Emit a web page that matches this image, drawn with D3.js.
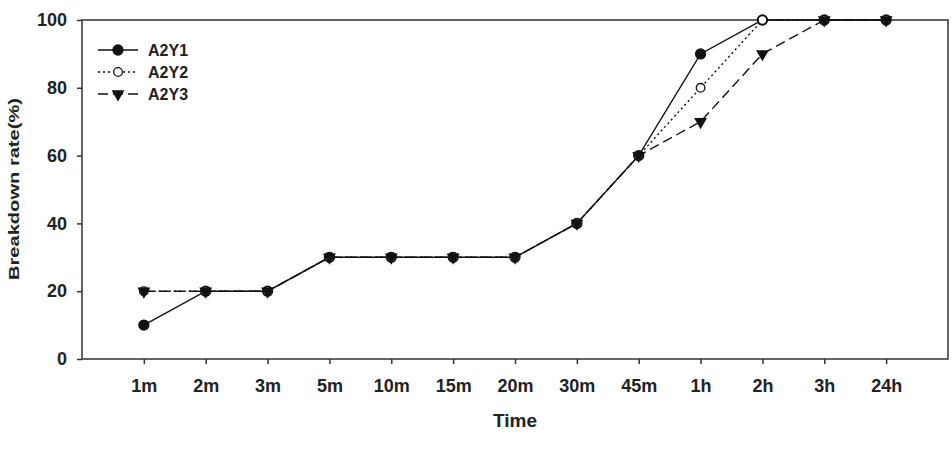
<!DOCTYPE html>
<html>
<head>
<meta charset="utf-8">
<script src="https://cdn.jsdelivr.net/npm/d3@7"></script>
<style>
  body { margin: 0; background: #fff; }
  text { font-family: "Liberation Sans", Arial, sans-serif; font-weight: bold; fill: #222; }
</style>
</head>
<body>
<div id="viz"></div>
<script>
const categories = ['1m', '2m', '3m', '5m', '10m', '15m', '20m', '30m', '45m', '1h', '2h', '3h', '24h'];
const a2y1 = [10, 20, 20, 30, 30, 30, 30, 40, 60, 90, 100, 100, 100];
const a2y2 = [20, 20, 20, 30, 30, 30, 30, 40, 60, 80, 100, 100, 100];
const a2y3 = [20, 20, 20, 30, 30, 30, 30, 40, 60, 70, 90, 100, 100];
const yTicks = [0, 20, 40, 60, 80, 100];

const width = 952;
const height = 449;
const margin = { left: 82, right: 4, top: 20, bottom: 90 };

const svg = d3.select('#viz').append('svg')
    .attr('width', width)
    .attr('height', height);

const x = d3.scalePoint()
    .domain(categories)
    .range([margin.left, width - margin.right])
    .padding(1);

const y = d3.scaleLinear()
    .domain([0, 100])
    .range([height - margin.bottom, margin.top]);

const axisColor = '#333';

// frame
svg.append('rect')
    .attr('x', margin.left)
    .attr('y', margin.top)
    .attr('width', width - margin.right - margin.left)
    .attr('height', height - margin.bottom - margin.top)
    .attr('fill', 'none')
    .attr('stroke', axisColor)
    .attr('stroke-width', 1.5);

const xAxis = svg.append('g')
    .attr('transform', `translate(0,${height - margin.bottom})`)
    .call(d3.axisBottom(x).tickSize(5).tickPadding(15));
xAxis.select('.domain').remove();
xAxis.selectAll('line').attr('stroke', axisColor).attr('stroke-width', 1.5);
xAxis.selectAll('text').style('font-size', '18px').attr('fill', '#222');

const yAxis = svg.append('g')
    .attr('transform', `translate(${margin.left},0)`)
    .call(d3.axisLeft(y).tickValues(yTicks).tickSize(5).tickPadding(10));
yAxis.select('.domain').remove();
yAxis.selectAll('line').attr('stroke', axisColor).attr('stroke-width', 1.5);
yAxis.selectAll('text').style('font-size', '18px').attr('fill', '#222');

svg.append('text')
    .attr('x', (margin.left + width - margin.right) / 2)
    .attr('y', 427)
    .attr('text-anchor', 'middle')
    .style('font-size', '19px')
    .text('Time');

svg.append('text')
    .attr('transform', `translate(19,189) rotate(-90)`)
    .attr('text-anchor', 'middle')
    .attr('textLength', 182)
    .attr('lengthAdjust', 'spacingAndGlyphs')
    .style('font-size', '15px')
    .text('Breakdown rate(%)');

const series = [
    { name: 'A2Y1', values: a2y1, dash: null, marker: 'circle', r: 5, fill: '#111' },
    { name: 'A2Y2', values: a2y2, dash: '2,3', marker: 'circle', r: 4.3, fill: '#fff' },
    { name: 'A2Y3', values: a2y3, dash: '10,5', marker: 'triangle', fill: '#111' }
];

const line = d3.line()
    .x((d, i) => x(categories[i]))
    .y(d => y(d));

const triangle = d3.symbol().type(d3.symbolTriangle).size(72);

function drawMarker(g, s, cx, cy) {
    if (s.marker === 'circle') {
        g.append('circle')
            .attr('cx', cx).attr('cy', cy).attr('r', s.r)
            .attr('fill', s.fill)
            .attr('stroke', '#111')
            .attr('stroke-width', 1.3);
    } else {
        g.append('path')
            .attr('d', triangle())
            .attr('transform', `translate(${cx},${cy}) rotate(180)`)
            .attr('fill', s.fill);
    }
}

series.forEach(s => {
    const g = svg.append('g');
    g.append('path')
        .datum(s.values)
        .attr('d', line)
        .attr('fill', 'none')
        .attr('stroke', '#111')
        .attr('stroke-width', 1.4)
        .attr('stroke-dasharray', s.dash);
    s.values.forEach((v, i) => drawMarker(g, s, x(categories[i]), y(v)));
});

// legend
const legend = svg.append('g').attr('transform', 'translate(98,50)');
series.forEach((s, i) => {
    const row = legend.append('g').attr('transform', `translate(0,${i * 22})`);
    row.append('line')
        .attr('x1', 0).attr('x2', 40)
        .attr('stroke', '#111')
        .attr('stroke-width', 1.4)
        .attr('stroke-dasharray', s.dash);
    drawMarker(row, s, 20, 0);
    row.append('text')
        .attr('x', 50)
        .attr('dy', '0.35em')
        .style('font-size', '16px')
        .text(s.name);
});
</script>
</body>
</html>
